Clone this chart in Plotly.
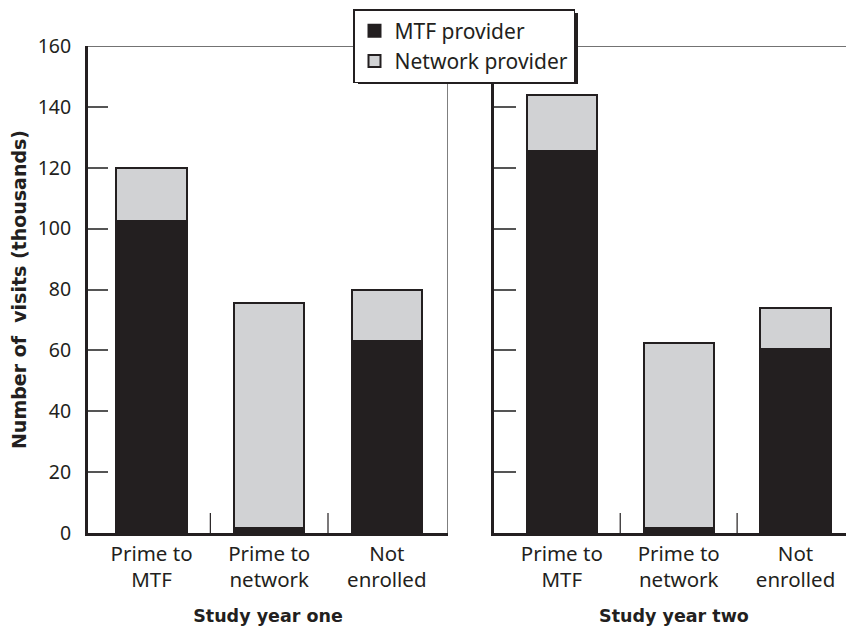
import plotly.graph_objects as go

categories = ["Prime to<br>MTF", "Prime to<br>network", "Not<br>enrolled"]
positions = [0, 1, 2]
year1_mtf = [102.5, 1.5, 63]
year1_network = [17.5, 74, 17]
year2_mtf = [125.5, 1.5, 60.5]
year2_network = [18.5, 61, 13.5]
y_ticks = [0, 20, 40, 60, 80, 100, 120, 140, 160]

BLACK = "#231f20"
GRAY = "#d1d2d4"
FONT = "Noto Sans"
BFONT = "DejaVu Sans"

fig = go.Figure()
bw = 0.6
line = dict(color=BLACK, width=2)
fig.add_trace(go.Bar(x=positions, y=year1_mtf, name="MTF provider", marker=dict(color=BLACK, line=line),
                     width=bw, xaxis="x", yaxis="y", legendgroup="m"))
fig.add_trace(go.Bar(x=positions, y=year1_network, name="Network provider", marker=dict(color=GRAY, line=line),
                     width=bw, xaxis="x", yaxis="y", legendgroup="n"))
fig.add_trace(go.Bar(x=positions, y=year2_mtf, name="MTF provider", marker=dict(color=BLACK, line=line),
                     width=bw, xaxis="x2", yaxis="y2", showlegend=False, legendgroup="m"))
fig.add_trace(go.Bar(x=positions, y=year2_network, name="Network provider", marker=dict(color=GRAY, line=line),
                     width=bw, xaxis="x2", yaxis="y2", showlegend=False, legendgroup="n"))

# page is offset by the default 8px body margin
OFF = 8
W, H = 854 - OFF, 634 - OFF
L, R, T, B = 88 - OFF, 0, 46 - OFF, 101
pw = W - L - R
ph = H - T - B

def px(xp):
    return (xp - OFF - L) / pw

def py(yp):
    return (H - B - (yp - OFF)) / ph

xcommon = dict(tickvals=positions, ticktext=categories, showline=True, linewidth=3, linecolor=BLACK,
               ticks="", showgrid=False, zeroline=False, automargin=False,
               tickfont=dict(family=FONT, size=20.5, color=BLACK),
               title_font=dict(family=BFONT, size=17.5, color=BLACK, weight="bold"),
               title_standoff=18)
fig.update_layout(
    width=W, height=H,
    margin=dict(l=L, r=R, t=T, b=B, autoexpand=False),
    plot_bgcolor="white", paper_bgcolor="white",
    barmode="stack", bargap=0,
    showlegend=True,
    xaxis=dict(domain=[0, px(448)], range=[-0.54, 2.52], title_text="Study year one", **xcommon),
    xaxis2=dict(domain=[px(494), 1], range=[-0.58, 2.5], title_text="Study year two", anchor="y2", **xcommon),
    yaxis=dict(range=[0, 160], tickvals=y_ticks, showline=True, linewidth=3, linecolor=BLACK,
               ticks="inside", ticklen=20, tickwidth=1.5, tickcolor="#555555", showgrid=False, zeroline=False,
               tickfont=dict(family=FONT, size=19.5, color=BLACK), ticklabelstandoff=10, automargin=False,
               title_text="Number of\u00a0 visits (thousands)",
               title_font=dict(family=BFONT, size=19, color=BLACK, weight="bold"), title_standoff=11),
    yaxis2=dict(range=[0, 160], tickvals=y_ticks, showticklabels=False, anchor="x2", matches="y",
                showline=True, linewidth=3, linecolor=BLACK, automargin=False,
                ticks="inside", ticklen=22, tickwidth=1.5, tickcolor="#555555", showgrid=False, zeroline=False),
    legend=dict(x=px(353), y=py(9), xanchor="left", yanchor="top", bgcolor="white",
                bordercolor=BLACK, borderwidth=1.5, font=dict(family=FONT, size=21, color=BLACK),
                traceorder="normal", tracegroupgap=1, itemclick=False),
)

shapes = [
    dict(type="line", xref="paper", yref="y", x0=0, x1=1, y0=160, y1=160, line=dict(color="#444444", width=1.5)),
    dict(type="line", xref="x", yref="y", x0=2.52, x1=2.52, y0=0, y1=160, line=dict(color="#555555", width=1.5)),
    dict(type="rect", xref="paper", yref="paper", x0=px(358), x1=px(578), y0=py(84), y1=py(13),
         fillcolor=BLACK, line=dict(width=0), layer="above"),
]
for xr, yr in (("x", "y"), ("x2", "y2")):
    for d in (0.5, 1.5):
        shapes.append(dict(type="line", xref=xr, yref=yr, x0=d, x1=d, y0=0, y1=6.6,
                           line=dict(color=BLACK, width=1.2)))
fig.update_layout(shapes=shapes)

fig.write_html("out.html")
